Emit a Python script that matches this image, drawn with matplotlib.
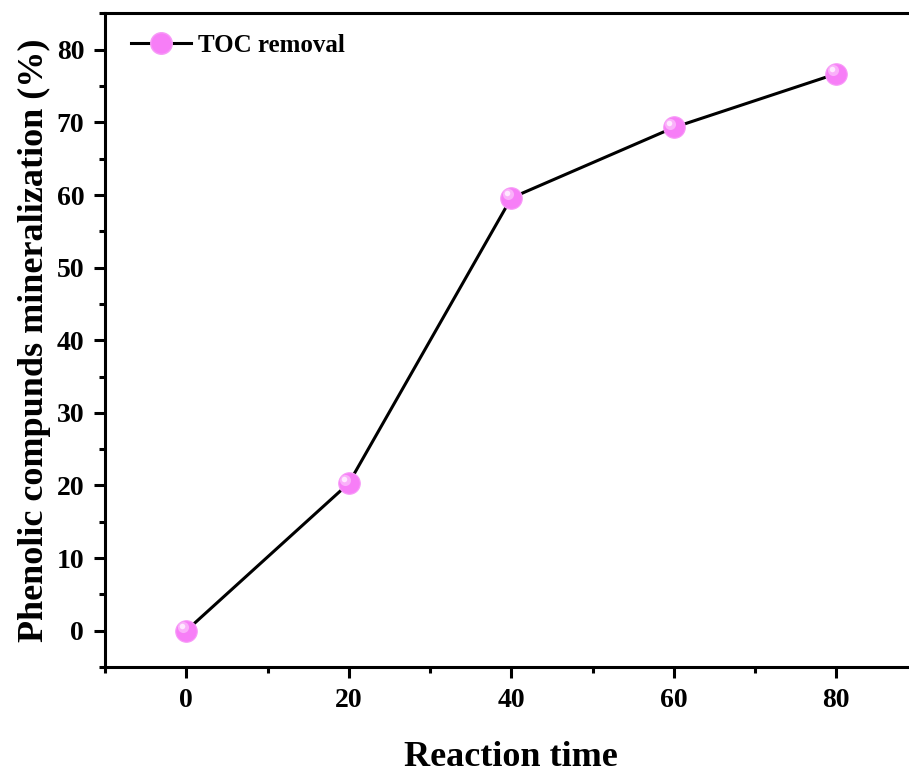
import matplotlib
matplotlib.use("Agg")
import matplotlib.pyplot as plt
from matplotlib.ticker import MultipleLocator
from matplotlib.transforms import offset_copy
from matplotlib.lines import Line2D

# Mineralization data
reaction_time = [0, 20, 40, 60, 80]
toc_removal = [0.0, 20.3, 59.6, 69.3, 76.7]
series_label = "TOC removal"
x_label = "Reaction time"
y_label = "Phenolic compunds mineralization (%)"

plt.rcParams['font.family'] = ['Liberation Serif', 'DejaVu Serif']
plt.rcParams['font.weight'] = 'bold'

fig = plt.figure(figsize=(9.09, 7.74), dpi=100)
ax = fig.add_axes([0.1155, 0.1382, 0.894, 0.8444])

pink = '#f77ef7'
ax.plot(reaction_time, toc_removal, color='black', lw=2.2, zorder=2)
ax.plot(reaction_time, toc_removal, ls='none', marker='o', ms=15.5,
        mfc=pink, mec='#f79af7', mew=0.8, zorder=3)
# glossy highlight on each sphere
hl = offset_copy(ax.transData, fig=fig, x=-2.5, y=2.5, units='points')
ax.plot(reaction_time, toc_removal, ls='none', marker='o', ms=8,
        mfc='#fab0fa', mec='none', transform=hl, zorder=4)
hl2 = offset_copy(ax.transData, fig=fig, x=-3.2, y=3.2, units='points')
ax.plot(reaction_time, toc_removal, ls='none', marker='o', ms=4,
        mfc='#ffe8ff', mec='none', transform=hl2, zorder=5)

ax.set_xlim(-10, 90)
ax.set_ylim(-5, 85)
ax.xaxis.set_major_locator(MultipleLocator(20))
ax.xaxis.set_minor_locator(MultipleLocator(10))
ax.yaxis.set_major_locator(MultipleLocator(10))
ax.yaxis.set_minor_locator(MultipleLocator(5))

for s in ax.spines.values():
    s.set_linewidth(2.2)
ax.spines['right'].set_visible(False)
ax.tick_params(which='major', direction='out', length=8, width=2.2,
               labelsize=20, pad=7)
ax.tick_params(which='minor', direction='out', length=4.5, width=2.2)
for lab in ax.get_xticklabels() + ax.get_yticklabels():
    lab.set_fontweight('bold')

ax.set_xlabel(x_label, fontsize=26, fontweight='bold', labelpad=20)
ax.set_ylabel(y_label, fontsize=26, fontweight='bold', labelpad=4)

handle = Line2D([], [], color='black', lw=2.2, marker='o', ms=15.5,
                mfc=pink, mec='#f79af7')
ax.legend([handle], [series_label], loc='upper left', frameon=False,
          prop={'size': 18, 'weight': 'bold'}, handlelength=2.4,
          handletextpad=0.3, borderaxespad=0.3, bbox_to_anchor=(0.01, 0.995))

fig.savefig('out.png', dpi=100)
